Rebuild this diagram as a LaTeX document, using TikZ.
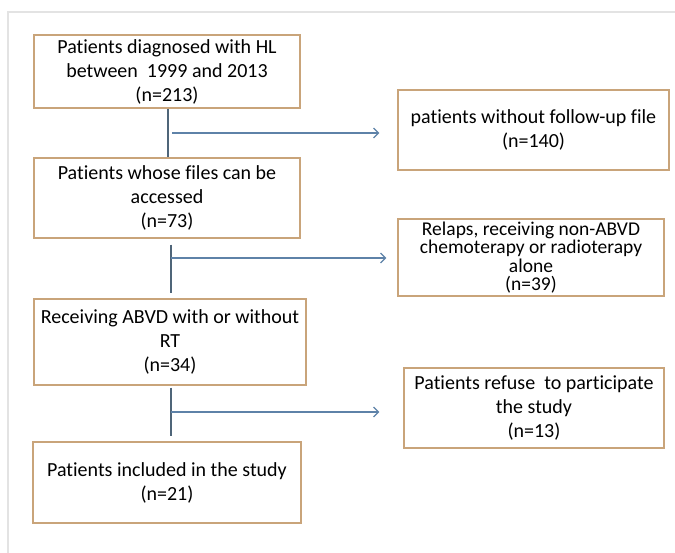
\documentclass[tikz,border=0pt]{standalone}
\usepackage{fontspec}
\setmainfont{Carlito}[Ligatures=NoCommon]
\usetikzlibrary{arrows.meta}
\definecolor{boxline}{HTML}{C9A47A}
\definecolor{conn}{HTML}{4F6579}
\definecolor{arrowc}{HTML}{5E82A8}
\definecolor{frame}{HTML}{E3E3E3}
\begin{document}
\begin{tikzpicture}[x=1pt,y=-1pt,
  box/.style={draw=boxline,line width=1.3pt,align=center,inner sep=0pt,
    font=\fontsize{20}{24}\selectfont,text=black},
  tight/.style={font=\fontsize{19.5}{18.5}\selectfont},
  vline/.style={draw=conn,line width=1.6pt},
  branch/.style={draw=arrowc,line width=1.3pt,-{Straight Barb[length=5pt,width=10pt,line width=1.2pt]}}]
\useasboundingbox (0,0) rectangle (675,553);
\draw[frame,line width=2pt] (8,553) -- (8,12) -- (675,12);
% main column
\node[box,minimum width=266pt,minimum height=73pt] (b1) at (167,71.5)
  {Patients diagnosed with HL\\between~ 1999 and 2013\\(n=213)};
\node[box,minimum width=266pt,minimum height=80pt] (b2) at (167,198)
  {Patients whose files can be\\accessed\\(n=73)};
\node[box,minimum width=272pt,minimum height=86pt] (b3) at (170,342)
  {Receiving ABVD with or without\\RT\\(n=34)};
\node[box,minimum width=268pt,minimum height=81pt] (b4) at (167,482.5)
  {Patients included in the study\\(n=21)};
% side boxes
\node[box,minimum width=271pt,minimum height=80pt] (r1) at (533.5,130)
  {patients without follow-up file\\(n=140)};
\node[box,tight,minimum width=266pt,minimum height=77pt] (r2) at (531,257.5)
  {Relaps, receiving non-ABVD\\chemoterapy or radioterapy\\alone\\(n=39)};
\node[box,minimum width=260pt,minimum height=80pt] (r3) at (534,408)
  {Patients refuse~ to participate\\the study\\(n=13)};
% junctions
\coordinate (j1) at (172,133);
\coordinate (j2) at (171,258);
\coordinate (j3) at (171,412);
% vertical connectors
\draw[vline] (b1.south -| 168,0) -- (b2.north -| 168,0);
\draw[vline] ([yshift=-6pt]b2.south -| j2) -- ([yshift=5pt]b3.north -| j2);
\draw[vline] ([yshift=-2pt]b3.south -| j3) -- ([yshift=5pt]b4.north -| j3);
% branches
\draw[branch,shorten >=18pt] (j1) -- (j1 -| r1.west);
\draw[branch,shorten >=11pt] (j2) -- (j2 -| r2.west);
\draw[branch,shorten >=24pt] (j3) -- (j3 -| r3.west);
\end{tikzpicture}
\end{document}
